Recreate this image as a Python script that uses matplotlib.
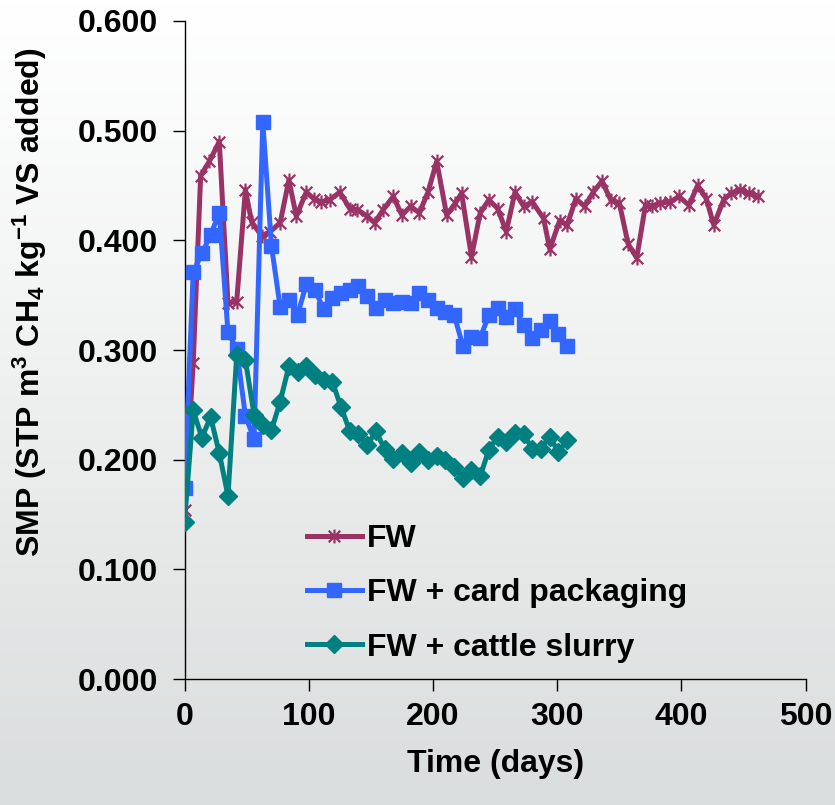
import numpy as np
import matplotlib
matplotlib.use("Agg")
import matplotlib.pyplot as plt
from matplotlib.path import Path
from matplotlib.ticker import FormatStrFormatter, MultipleLocator

# Specific methane production (SMP) over time for three digester feeds
fw_days = [0, 7, 13, 20, 28, 35, 42, 49, 54, 62, 69, 77, 84, 90, 98, 104, 110, 117,
           125, 133, 139, 147, 153, 160, 168, 175, 182, 189, 196, 203, 211, 218, 223,
           231, 238, 245, 252, 259, 266, 273, 280, 289, 294, 302, 308, 315, 322, 329,
           336, 343, 350, 357, 364, 371, 376, 383, 391, 398, 406, 413, 420, 426, 434,
           440, 447, 454, 462]
fw_smp = [0.154, 0.288, 0.459, 0.472, 0.490, 0.343, 0.344, 0.446, 0.417, 0.404, 0.408,
          0.416, 0.455, 0.422, 0.444, 0.438, 0.435, 0.437, 0.444, 0.429, 0.428, 0.422,
          0.416, 0.428, 0.440, 0.423, 0.431, 0.425, 0.444, 0.472, 0.423, 0.434, 0.443,
          0.385, 0.425, 0.437, 0.429, 0.408, 0.444, 0.431, 0.435, 0.420, 0.392, 0.418,
          0.414, 0.438, 0.431, 0.444, 0.454, 0.437, 0.434, 0.397, 0.384, 0.432, 0.431,
          0.434, 0.435, 0.440, 0.432, 0.450, 0.438, 0.414, 0.437, 0.443, 0.446, 0.443,
          0.440]

mix_days = [0, 7, 14, 21, 28, 35, 42, 49, 56, 63, 70, 77, 84, 91, 98, 105, 112, 119,
            126, 133, 140, 147, 154, 161, 168, 175, 182, 189, 196, 203, 210, 217, 224,
            231, 238, 245, 252, 259, 266, 273, 280, 287, 294, 301, 308]
card_smp = [0.174, 0.371, 0.388, 0.405, 0.425, 0.316, 0.301, 0.240, 0.219, 0.508, 0.395,
            0.339, 0.346, 0.332, 0.360, 0.355, 0.337, 0.347, 0.352, 0.355, 0.358, 0.349,
            0.338, 0.346, 0.343, 0.344, 0.343, 0.352, 0.346, 0.338, 0.335, 0.332, 0.304,
            0.312, 0.311, 0.332, 0.338, 0.330, 0.337, 0.323, 0.311, 0.318, 0.326, 0.315,
            0.304]
slurry_smp = [0.143, 0.245, 0.220, 0.239, 0.206, 0.167, 0.295, 0.291, 0.241, 0.232,
              0.227, 0.253, 0.285, 0.280, 0.285, 0.277, 0.273, 0.271, 0.248, 0.226,
              0.223, 0.213, 0.226, 0.210, 0.201, 0.206, 0.197, 0.207, 0.200, 0.203,
              0.200, 0.193, 0.183, 0.191, 0.185, 0.209, 0.221, 0.216, 0.224, 0.223,
              0.210, 0.210, 0.221, 0.207, 0.218]

series_labels = ["FW", "FW + card packaging", "FW + cattle slurry"]
x_ticks = [0, 100, 200, 300, 400, 500]

plt.rcParams["font.family"] = ["Liberation Sans", "DejaVu Sans"]
plt.rcParams["font.weight"] = "bold"
plt.rcParams["mathtext.default"] = "regular"

FS = 23
W, H, DPI = 835, 805, 100
fig = plt.figure(figsize=(W / DPI, H / DPI), dpi=DPI)

# soft vertical gradient behind everything
bg = fig.add_axes([0, 0, 1, 1], zorder=-10)
grad = np.linspace(0, 1, 256).reshape(-1, 1)
top = np.array([1.0, 1.0, 1.0])
bottom = np.array([218, 221, 221]) / 255.0
img = top + (bottom - top) * grad[:, :, None] ** 1.1
bg.imshow(img, aspect="auto", extent=[0, 1, 0, 1])
bg.axis("off")

# asterisk-style marker: an X with a vertical stroke
star = Path([(-1, -1), (1, 1), (-1, 1), (1, -1), (0, -1.2), (0, 1.2)],
            [Path.MOVETO, Path.LINETO, Path.MOVETO, Path.LINETO, Path.MOVETO, Path.LINETO])

ax = fig.add_axes([184.5 / W, 1 - 679 / H, (805.7 - 184.5) / W, (679 - 21) / H])
ax.patch.set_alpha(0)

ax.plot(fw_days, fw_smp, color="#993366", lw=3.6, marker=star, ms=10, mew=1.6,
        mec="#993366", mfc="none", label=series_labels[0], zorder=3)
ax.plot(mix_days, card_smp, color="#3366FF", lw=3.6, marker="s", ms=10.5,
        mec="#3366FF", mfc="#3366FF", label=series_labels[1], zorder=4)
ax.plot(mix_days, slurry_smp, color="#008080", lw=3.6, marker="D", ms=9.5,
        mec="#008080", mfc="#008080", label=series_labels[2], zorder=5)

ax.set_xlim(0, 500)
ax.set_ylim(0, 0.6)
ax.set_xticks(x_ticks)
ax.yaxis.set_major_locator(MultipleLocator(0.1))
ax.yaxis.set_major_formatter(FormatStrFormatter("%.3f"))

for s in ("top", "right"):
    ax.spines[s].set_visible(False)
for s in ("left", "bottom"):
    ax.spines[s].set_linewidth(1.0)
    ax.spines[s].set_color("black")

ax.tick_params(axis="both", direction="out", length=8.5, width=1.0, labelsize=FS)
ax.tick_params(axis="y", pad=10.5)
ax.tick_params(axis="x", pad=8)
for lab in ax.get_xticklabels() + ax.get_yticklabels():
    lab.set_fontweight("bold")

ax.set_xlabel("Time (days)", fontsize=FS, fontweight="bold", labelpad=12)
fig.text(30 / W, 1 - 302 / H, r"SMP (STP m$^{3}$ CH$_{4}$ kg$^{-1}$ VS added)",
         rotation=90, ha="center", va="center", fontsize=FS, fontweight="bold")

leg = ax.legend(loc="upper left", bbox_to_anchor=((307 - 184.5) / 621.2, (679 - 524) / 658),
                frameon=False, fontsize=FS, handlelength=1.72, handletextpad=0.16,
                borderpad=0, borderaxespad=0, labelspacing=0.76)
for t in leg.get_texts():
    t.set_fontweight("bold")

fig.savefig("out.png", dpi=DPI)
